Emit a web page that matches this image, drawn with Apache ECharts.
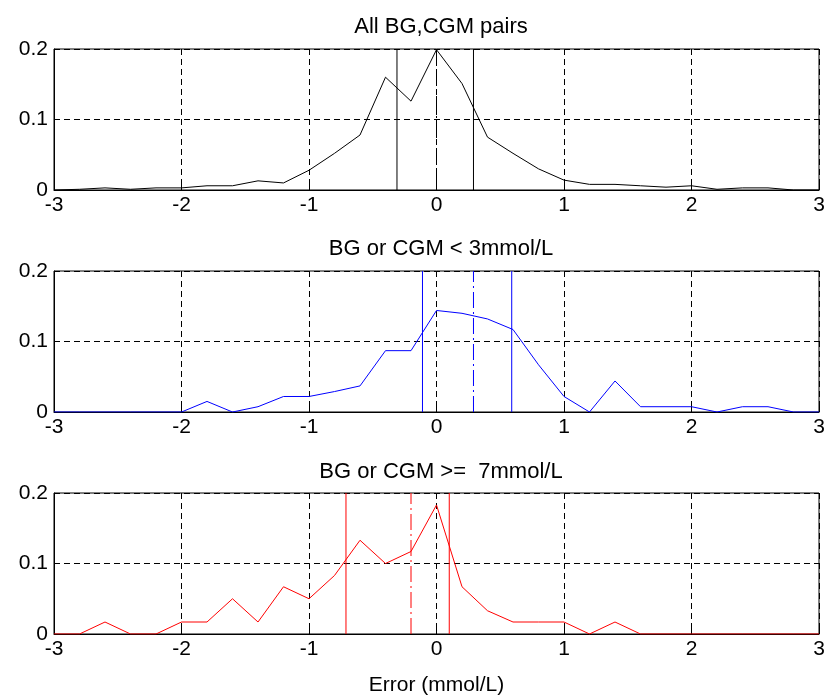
<!DOCTYPE html>
<html>
<head>
<meta charset="utf-8">
<script src="https://cdn.jsdelivr.net/npm/echarts@6/dist/echarts.min.js"></script>
<style>
html,body{margin:0;padding:0;background:#fff;}
#chart{width:829px;height:697px;}
</style>
</head>
<body>
<div id="chart"></div>
<script>
// x positions of the histogram bins (mmol/L)
const xBins = [-3.0,-2.8,-2.6,-2.4,-2.2,-2.0,-1.8,-1.6,-1.4,-1.2,-1.0,-0.8,-0.6,-0.4,-0.2,0.0,0.2,0.4,0.6,0.8,1.0,1.2,1.4,1.6,1.8,2.0,2.2,2.4,2.6,2.8,3.0];
// relative frequencies
const allPairs = [0,0.001,0.003,0.001,0.003,0.003,0.006,0.006,0.013,0.010,0.028,0.052,0.078,0.160,0.126,0.199,0.151,0.075,0.052,0.030,0.014,0.008,0.008,0.006,0.004,0.006,0.001,0.003,0.003,0,0];
const lowBG = [0,0,0,0,0,0,0.015,0,0.0075,0.022,0.022,0.029,0.037,0.087,0.087,0.144,0.140,0.132,0.117,0.067,0.022,0,0.044,0.0075,0.0075,0.0075,0,0.0075,0.0075,0,0];
const highBG = [0,0,0.017,0,0,0.017,0.017,0.050,0.017,0.067,0.050,0.083,0.133,0.100,0.117,0.183,0.067,0.033,0.017,0.017,0.017,0,0.017,0,0,0,0,0,0,0,0];
// vertical marker lines: [lower, centre, upper]
const allMarks = [-0.31, 0.0, 0.29];
const lowMarks = [-0.11, 0.29, 0.59];
const highMarks = [-0.71, -0.20, 0.10];
// titles and ticks
const titles = ['All BG,CGM pairs', 'BG or CGM < 3mmol/L', 'BG or CGM >=  7mmol/L'];
const xLabel = 'Error (mmol/L)';
const xTicks = [-3,-2,-1,0,1,2,3];
const yTicks = [0,0.1,0.2];

const FONT = '"Liberation Sans", Arial, Helvetica, sans-serif';
const tops = [49, 271, 493];
const H = 141;
const colors = ['#000000', '#0000ff', '#ff0000'];
const seriesVals = [allPairs, lowBG, highBG];
const marks = [allMarks, lowMarks, highMarks];
const FS = 21;
const yMin = yTicks[0], yMax = yTicks[yTicks.length - 1];

const chart = echarts.init(document.getElementById('chart'), null, {renderer: 'canvas'});

const grids = tops.map(t => ({left: 54, width: 765, top: t, height: H, show: true, borderColor: '#000', borderWidth: 1, backgroundColor: '#fff'}));

const xAxes = tops.map((t, i) => ({
  type: 'value', gridIndex: i, min: xTicks[0], max: xTicks[xTicks.length-1], interval: 1,
  axisLine: {show: true, onZero: false, lineStyle: {color: '#000', width: 1}},
  axisTick: {show: true, inside: true, length: 5, lineStyle: {color: '#000'}},
  axisLabel: {color: '#000', fontSize: FS, fontFamily: FONT, margin: 5, formatter: v => String(v)},
  splitLine: {show: true, lineStyle: {color: '#000', type: [6, 4], width: 1}},
  name: i === 2 ? xLabel : '', nameLocation: 'middle', nameGap: 41,
  nameTextStyle: {color: '#000', fontSize: FS, fontFamily: FONT}
}));

const yAxes = tops.map((t, i) => ({
  type: 'value', gridIndex: i, min: yMin, max: yMax, interval: 0.1,
  axisLine: {show: true, onZero: false, lineStyle: {color: '#000', width: 1}},
  axisTick: {show: true, inside: true, length: 5, lineStyle: {color: '#000'}},
  axisLabel: {color: '#000', fontSize: FS, fontFamily: FONT, margin: 6, formatter: v => String(Math.round(v*10)/10)},
  splitLine: {show: true, lineStyle: {color: '#000', type: [6, 4], width: 1}}
}));

const series = [];
seriesVals.forEach((vals, i) => {
  marks[i].forEach((m, j) => {
    series.push({
      type: 'line', xAxisIndex: i, yAxisIndex: i,
      data: [[m, yMin], [m, yMax]],
      showSymbol: false, symbol: 'none', animation: false, silent: true,
      color: colors[i],
      lineStyle: {color: colors[i], width: 1, type: j === 1 ? [16, 4, 2, 4] : 'solid'},
      z: 2
    });
  });
  series.push({
    type: 'line', xAxisIndex: i, yAxisIndex: i,
    data: xBins.map((x, k) => [x, vals[k]]),
    showSymbol: false, symbol: 'none', animation: false,
    color: colors[i],
    lineStyle: {color: colors[i], width: 1},
    itemStyle: {color: colors[i]},
    z: 3
  });
});

const titleTops = [11, 233, 456];
const option = {
  backgroundColor: '#fff',
  animation: false,
  title: titles.map((t, i) => ({
    text: t, left: 436, top: titleTops[i], textAlign: 'center',
    textStyle: {color: '#000', fontSize: 22, fontWeight: 'normal', fontFamily: FONT}
  })),
  grid: grids,
  xAxis: xAxes,
  yAxis: yAxes,
  series: series
};
chart.setOption(option);
</script>
</body>
</html>
